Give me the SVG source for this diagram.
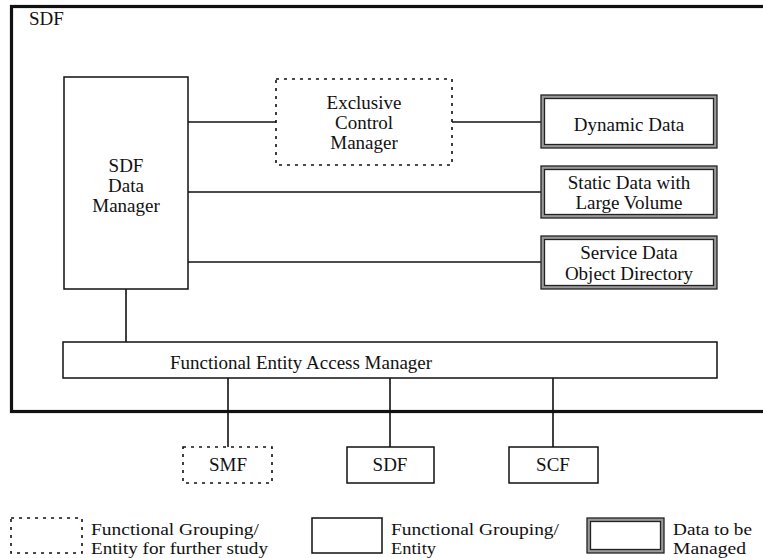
<svg xmlns="http://www.w3.org/2000/svg" width="763" height="558" viewBox="0 0 763 558">
  <style>
    text { font-family: "Liberation Serif", "DejaVu Serif", "Times New Roman", serif; font-size: 19px; fill: #111; }
    .mid { text-anchor: middle; }
    .leg { font-size: 16.5px; }
    .box { fill: #fff; stroke: #111; stroke-width: 1.5; }
    .dash { fill: #fff; stroke: #111; stroke-width: 1.6; stroke-dasharray: 3 5; }
    .dbl-out { fill: #9a9a9a; stroke: #222; stroke-width: 1.3; }
    .dbl-in { fill: #fff; stroke: #222; stroke-width: 1.3; }
    .frame { fill: none; stroke: #111; stroke-width: 3.2; }
    .conn { stroke: #111; stroke-width: 1.6; fill: none; }
  </style>

  <!-- outer SDF grouping frame (open to the right) -->
  <g id="sdf-frame">
    <rect class="frame" x="11.5" y="6.5" width="770" height="405"/>
    <text x="29" y="25">SDF</text>
  </g>

  <!-- connectors -->
  <g id="connectors">
    <line class="conn" x1="188" y1="122" x2="276" y2="122"/>
    <line class="conn" x1="452" y1="122" x2="541" y2="122"/>
    <line class="conn" x1="188" y1="192" x2="541" y2="192"/>
    <line class="conn" x1="188" y1="262" x2="541" y2="262"/>
    <line class="conn" x1="126" y1="289" x2="126" y2="342"/>
    <line class="conn" x1="228" y1="378" x2="228" y2="447"/>
    <line class="conn" x1="390" y1="378" x2="390" y2="447"/>
    <line class="conn" x1="553" y1="378" x2="553" y2="447"/>
  </g>

  <g id="sdf-data-manager">
    <rect class="box" x="64" y="77" width="124" height="212"/>
    <text class="mid" x="126" y="172">SDF</text>
    <text class="mid" x="126" y="192">Data</text>
    <text class="mid" x="126" y="212">Manager</text>
  </g>

  <g id="exclusive-control-manager">
    <rect class="dash" x="276" y="79" width="176" height="86"/>
    <text class="mid" x="364" y="109">Exclusive</text>
    <text class="mid" x="364" y="129">Control</text>
    <text class="mid" x="364" y="149">Manager</text>
  </g>

  <g id="dynamic-data">
    <rect class="dbl-out" x="541" y="95" width="176" height="53"/>
    <rect class="dbl-in" x="544.5" y="98.5" width="169" height="46"/>
    <text class="mid" x="629" y="131">Dynamic Data</text>
  </g>

  <g id="static-data">
    <rect class="dbl-out" x="541" y="166" width="176" height="52"/>
    <rect class="dbl-in" x="544.5" y="169.5" width="169" height="45"/>
    <text class="mid" x="629" y="189">Static Data with</text>
    <text class="mid" x="629" y="209">Large Volume</text>
  </g>

  <g id="service-data-directory">
    <rect class="dbl-out" x="541" y="236" width="176" height="53"/>
    <rect class="dbl-in" x="544.5" y="239.5" width="169" height="46"/>
    <text class="mid" x="629" y="259">Service Data</text>
    <text class="mid" x="629" y="280">Object Directory</text>
  </g>

  <g id="fe-access-manager">
    <rect class="box" x="63" y="342" width="654" height="36"/>
    <text class="mid" x="301" y="369">Functional Entity Access Manager</text>
  </g>

  <g id="smf">
    <rect class="dash" x="183" y="447" width="89" height="36"/>
    <text class="mid" x="228" y="471">SMF</text>
  </g>

  <g id="sdf-ext">
    <rect class="box" x="347" y="447" width="87" height="36"/>
    <text class="mid" x="390" y="471">SDF</text>
  </g>

  <g id="scf">
    <rect class="box" x="509" y="447" width="89" height="36"/>
    <text class="mid" x="553" y="471">SCF</text>
  </g>

  <!-- legend -->
  <g id="legend-further-study">
    <rect class="dash" x="11" y="518" width="71" height="35"/>
    <text class="leg" x="91" y="535" textLength="168" lengthAdjust="spacingAndGlyphs">Functional Grouping/</text>
    <text class="leg" x="91" y="554" textLength="177" lengthAdjust="spacingAndGlyphs">Entity for further study</text>
  </g>
  <g id="legend-entity">
    <rect class="box" x="312" y="518" width="70" height="35"/>
    <text class="leg" x="391" y="535" textLength="168" lengthAdjust="spacingAndGlyphs">Functional Grouping/</text>
    <text class="leg" x="391" y="554" textLength="45" lengthAdjust="spacingAndGlyphs">Entity</text>
  </g>
  <g id="legend-data">
    <rect class="dbl-out" x="587" y="518" width="77" height="35"/>
    <rect class="dbl-in" x="590.5" y="521.5" width="70" height="28"/>
    <text class="leg" x="673" y="535" textLength="79" lengthAdjust="spacingAndGlyphs">Data to be</text>
    <text class="leg" x="673" y="554" textLength="73" lengthAdjust="spacingAndGlyphs">Managed</text>
  </g>
</svg>
